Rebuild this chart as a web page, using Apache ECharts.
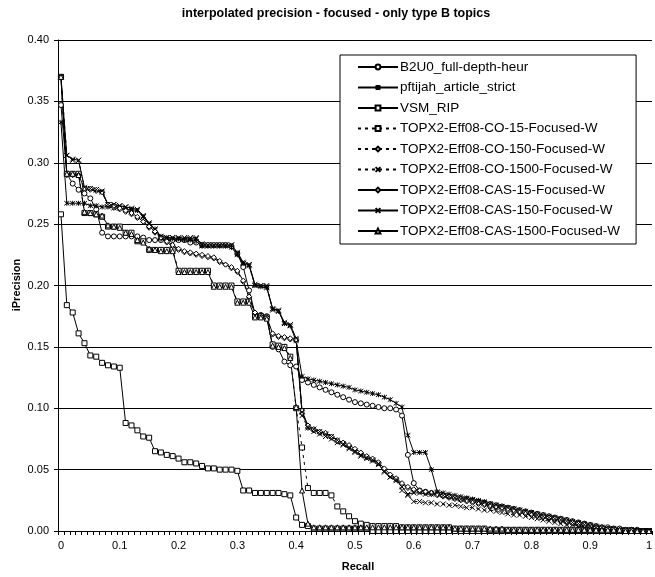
<!DOCTYPE html>
<html><head><meta charset="utf-8">
<script src="https://cdn.jsdelivr.net/npm/echarts@6/dist/echarts.min.js"></script>
<style>html,body{margin:0;padding:0;background:#fff}#c{width:655px;height:577px}</style>
</head><body><div id="c"></div>
<script>
const recall = ['0','0.01','0.02','0.03','0.04','0.05','0.06','0.07','0.08','0.09',
'0.1','0.11','0.12','0.13','0.14','0.15','0.16','0.17','0.18','0.19',
'0.2','0.21','0.22','0.23','0.24','0.25','0.26','0.27','0.28','0.29',
'0.3','0.31','0.32','0.33','0.34','0.35','0.36','0.37','0.38','0.39',
'0.4','0.41','0.42','0.43','0.44','0.45','0.46','0.47','0.48','0.49',
'0.5','0.51','0.52','0.53','0.54','0.55','0.56','0.57','0.58','0.59',
'0.6','0.61','0.62','0.63','0.64','0.65','0.66','0.67','0.68','0.69',
'0.7','0.71','0.72','0.73','0.74','0.75','0.76','0.77','0.78','0.79',
'0.8','0.81','0.82','0.83','0.84','0.85','0.86','0.87','0.88','0.89',
'0.9','0.91','0.92','0.93','0.94','0.95','0.96','0.97','0.98','0.99','1'];

const yTicks = [0, 0.05, 0.10, 0.15, 0.20, 0.25, 0.30, 0.35, 0.40];

const b2u0 = [0.347,0.291,0.283,0.278,0.275,0.271,0.262,0.243,0.240,0.240,
0.240,0.240,0.240,0.240,0.239,0.237,0.237,0.237,0.237,0.237,
0.237,0.237,0.235,0.235,0.233,0.233,0.233,0.233,0.233,0.232,
0.226,0.215,0.196,0.177,0.176,0.175,0.150,0.148,0.138,0.135,
0.134,0.123,0.121,0.119,0.117,0.115,0.113,0.111,0.109,0.107,
0.105,0.104,0.103,0.102,0.101,0.100,0.100,0.099,0.094,0.062,
0.039,0.033,0.032,0.031,0.030,0.029,0.028,0.027,0.026,0.026,
0.025,0.024,0.023,0.022,0.021,0.020,0.019,0.018,0.017,0.016,
0.015,0.014,0.013,0.012,0.011,0.010,0.009,0.008,0.007,0.006,
0.005,0.004,0.003,0.003,0.002,0.002,0.001,0.001,0.001,0.000,0.000];

const pftijah = [0.333,0.267,0.267,0.267,0.267,0.265,0.265,0.264,0.264,0.263,
0.263,0.262,0.262,0.261,0.256,0.250,0.246,0.240,0.239,0.238,
0.238,0.237,0.237,0.236,0.232,0.232,0.232,0.232,0.232,0.231,
0.225,0.218,0.216,0.200,0.199,0.198,0.181,0.179,0.169,0.167,
0.155,0.126,0.124,0.123,0.122,0.121,0.120,0.119,0.118,0.117,
0.115,0.114,0.113,0.112,0.111,0.109,0.107,0.104,0.101,0.078,
0.064,0.064,0.064,0.050,0.032,0.031,0.030,0.029,0.028,0.027,
0.026,0.025,0.024,0.022,0.021,0.020,0.019,0.018,0.017,0.016,
0.015,0.014,0.013,0.012,0.011,0.010,0.009,0.008,0.007,0.006,
0.005,0.004,0.003,0.002,0.002,0.001,0.001,0.001,0.000,0.000,0.000];

const vsmRip = [0.258,0.184,0.178,0.161,0.153,0.143,0.142,0.137,0.135,0.134,
0.133,0.088,0.086,0.082,0.077,0.076,0.065,0.064,0.062,0.061,
0.059,0.056,0.056,0.055,0.053,0.051,0.051,0.050,0.050,0.050,
0.049,0.033,0.033,0.031,0.031,0.031,0.031,0.031,0.030,0.029,
0.011,0.005,0.004,0.002,0.002,0.002,0.002,0.002,0.002,0.002,
0.002,0.002,0.002,0,0,0,0,0,0,0,
0,0,0,0,0,0,0,0,0,0,
0,0,0,0,0,0,0,0,0,0,
0,0,0,0,0,0,0,0,0,0,
0,0,0,0,0,0,0,0,0,0,0];

const co15 = [0.370,0.291,0.291,0.291,0.259,0.259,0.258,0.256,0.248,0.248,
0.248,0.243,0.243,0.236,0.236,0.229,0.229,0.229,0.229,0.229,
0.212,0.212,0.212,0.212,0.212,0.212,0.200,0.200,0.200,0.200,
0.187,0.187,0.187,0.175,0.175,0.174,0.152,0.151,0.150,0.142,
0.100,0.068,0.035,0.031,0.031,0.031,0.029,0.020,0.016,0.012,
0.008,0.006,0.005,0.004,0.004,0.004,0.004,0.004,0.003,0.003,
0.003,0.003,0.003,0.003,0.003,0.003,0.003,0.002,0.002,0.002,
0.002,0.002,0.002,0.001,0.001,0.001,0.001,0.001,0.001,0.001,
0.001,0.001,0.001,0.001,0.001,0.001,0.001,0.001,0.001,0.001,
0.001,0,0,0,0,0,0,0,0,0,0];

const co150 = [0.370,0.290,0.290,0.290,0.279,0.278,0.277,0.276,0.265,0.264,
0.262,0.260,0.258,0.255,0.252,0.247,0.243,0.238,0.235,0.232,
0.229,0.227,0.226,0.225,0.224,0.223,0.222,0.219,0.217,0.214,
0.211,0.203,0.190,0.177,0.174,0.174,0.160,0.158,0.157,0.156,
0.155,0.096,0.084,0.082,0.080,0.079,0.076,0.073,0.072,0.069,
0.066,0.063,0.060,0.058,0.055,0.050,0.045,0.042,0.038,0.035,
0.033,0.032,0.031,0.030,0.029,0.028,0.027,0.026,0.025,0.024,
0.023,0.022,0.021,0.020,0.019,0.018,0.017,0.016,0.015,0.014,
0.013,0.012,0.011,0.010,0.009,0.008,0.007,0.006,0.005,0.004,
0.003,0.003,0.002,0.002,0.001,0.001,0.001,0.000,0.000,0.000,0.000];

const co1500 = [0.370,0.306,0.302,0.302,0.279,0.279,0.278,0.276,0.266,0.266,
0.265,0.264,0.262,0.262,0.256,0.250,0.245,0.239,0.239,0.239,
0.239,0.239,0.239,0.239,0.233,0.233,0.233,0.233,0.233,0.233,
0.226,0.218,0.217,0.200,0.200,0.200,0.180,0.179,0.169,0.168,
0.156,0.094,0.084,0.081,0.079,0.077,0.075,0.072,0.070,0.067,
0.064,0.061,0.059,0.057,0.054,0.049,0.044,0.041,0.033,0.029,
0.024,0.024,0.023,0.023,0.022,0.022,0.021,0.021,0.020,0.019,
0.019,0.018,0.017,0.017,0.016,0.015,0.014,0.013,0.013,0.012,
0.011,0.010,0.009,0.008,0.007,0.006,0.005,0.005,0.004,0.003,
0.002,0.002,0.002,0.001,0.001,0.001,0.001,0.001,0.000,0.000,0.000];

const cas15 = [0.370,0.290,0.290,0.290,0.279,0.279,0.278,0.276,0.266,0.265,
0.263,0.261,0.259,0.256,0.252,0.248,0.244,0.239,0.236,0.233,
0.230,0.228,0.227,0.226,0.225,0.224,0.223,0.220,0.217,0.215,
0.212,0.204,0.191,0.178,0.175,0.174,0.161,0.159,0.158,0.157,
0.156,0.098,0.086,0.083,0.081,0.080,0.077,0.074,0.072,0.070,
0.067,0.064,0.061,0.059,0.056,0.051,0.046,0.043,0.039,0.036,
0.034,0.033,0.032,0.031,0.030,0.029,0.028,0.027,0.026,0.025,
0.024,0.023,0.022,0.021,0.020,0.019,0.018,0.017,0.016,0.015,
0.014,0.013,0.012,0.011,0.010,0.009,0.008,0.007,0.006,0.005,
0.004,0.003,0.003,0.002,0.002,0.001,0.001,0.001,0.000,0.000,0.000];

const cas150 = [0.370,0.306,0.303,0.302,0.280,0.279,0.278,0.277,0.266,0.266,
0.265,0.264,0.263,0.262,0.257,0.251,0.246,0.240,0.239,0.239,
0.238,0.238,0.238,0.238,0.234,0.233,0.233,0.233,0.233,0.233,
0.227,0.219,0.217,0.201,0.200,0.199,0.181,0.180,0.170,0.168,
0.157,0.097,0.085,0.083,0.081,0.079,0.077,0.074,0.071,0.068,
0.065,0.062,0.060,0.058,0.055,0.048,0.044,0.042,0.036,0.030,
0.031,0.031,0.030,0.030,0.031,0.029,0.028,0.027,0.026,0.026,
0.025,0.024,0.023,0.022,0.021,0.020,0.019,0.018,0.017,0.016,
0.015,0.013,0.012,0.011,0.010,0.009,0.008,0.007,0.006,0.005,
0.004,0.003,0.003,0.002,0.002,0.001,0.001,0.001,0.000,0.000,0.000];

const cas1500 = [0.370,0.291,0.291,0.290,0.260,0.259,0.258,0.257,0.249,0.248,
0.247,0.243,0.242,0.237,0.235,0.230,0.229,0.228,0.228,0.228,
0.211,0.211,0.211,0.211,0.211,0.211,0.199,0.199,0.199,0.199,
0.186,0.186,0.186,0.174,0.174,0.173,0.151,0.150,0.149,0.141,
0.101,0.033,0.006,0.003,0.003,0.003,0.003,0.003,0.003,0.003,
0.003,0.003,0.003,0.003,0.003,0.003,0.003,0.003,0.003,0.003,
0.003,0.003,0.003,0.003,0.003,0.003,0.003,0.002,0.002,0.002,
0.002,0.002,0.002,0.002,0.002,0.002,0.001,0.001,0.001,0.001,
0.001,0.001,0.001,0.001,0.001,0.001,0.001,0.001,0.001,0.001,
0.001,0.001,0.001,0.001,0.001,0.001,0,0,0,0,0];

const names = ['B2U0_full-depth-heur','pftijah_article_strict','VSM_RIP',
 'TOPX2-Eff08-CO-15-Focused-W','TOPX2-Eff08-CO-150-Focused-W','TOPX2-Eff08-CO-1500-Focused-W',
 'TOPX2-Eff08-CAS-15-Focused-W','TOPX2-Eff08-CAS-150-Focused-W','TOPX2-Eff08-CAS-1500-Focused-W'];
const values = [b2u0, pftijah, vsmRip, co15, co150, co1500, cas15, cas150, cas1500];

const SYM_X = 'path://M0,0L10,10M10,0L0,10';
const SYM_AST = 'path://M0,0L10,10M10,0L0,10M5,-1L5,11';
const symbols = ['circle', SYM_AST, 'rect', 'rect', 'diamond', SYM_X, 'diamond', SYM_X, 'triangle'];
const dotted = [false,false,false,true,true,true,false,false,false];

const chart = echarts.init(document.getElementById('c'), null, {renderer:'canvas'});
const FONT = 'Liberation Sans, Arial, sans-serif';

const series = names.map((n, k) => ({
  name: n, type: 'line', data: values[k],
  symbol: symbols[k], symbolSize: 5,
  showAllSymbol: true, animation: false,
  lineStyle: {color:'#000', width: 1, type: dotted[k] ? [3,4] : 'solid'},
  itemStyle: {color:'#fff', borderColor:'#000', borderWidth: 1},
  emphasis: {disabled: true}
}));

chart.setOption({
  animation: false,
  backgroundColor: '#fff',
  grid: {left: 58, top: 40, right: -3, bottom: 46, containLabel: false},
  xAxis: {
    type: 'category', data: recall, boundaryGap: true,
    axisLine: {lineStyle: {color:'#000', width: 1}},
    axisTick: {show: true, interval: 0, length: 4, lineStyle: {color:'#000'}},
    axisLabel: {interval: 9, color:'#000', fontFamily: FONT, fontSize: 11, margin: 9},
    splitLine: {show: false}
  },
  yAxis: {
    type: 'value', min: 0, max: 0.4, interval: 0.05,
    axisLine: {show: true, lineStyle: {color:'#000', width: 1}},
    axisTick: {show: true, length: 4, lineStyle: {color:'#000'}},
    axisLabel: {color:'#000', fontFamily: FONT, fontSize: 11, margin: 9,
      formatter: v => { const t = yTicks.find(x => Math.abs(x - v) < 1e-9); return (t === undefined ? v : t).toFixed(2); }},
    splitLine: {show: true, lineStyle: {color:'#000', width: 1}}
  },
  legend: {
    orient: 'vertical', left: 340, top: 55,
    data: names,
    itemWidth: 40, itemHeight: 6, itemGap: 6.5,
    padding: [5, 16, 6, 17],
    borderColor: '#000', borderWidth: 1, backgroundColor: '#fff',
    textStyle: {color:'#000', fontFamily: FONT, fontSize: 13.5, padding: [0,0,0,-3]},
    selectedMode: false
  },
  graphic: [
    {type:'text', x: 336, y: 14, style: {text: 'interpolated precision - focused - only type B topics', font: 'bold 12.5px ' + FONT, fill:'#000', align:'center', verticalAlign:'middle'}},
    {type:'text', x: 358, y: 567, style: {text: 'Recall', font: 'bold 11px ' + FONT, fill:'#000', align:'center', verticalAlign:'middle'}},
    {type:'text', x: 17, y: 285, rotation: Math.PI/2, style: {text: 'iPrecision', font: 'bold 11px ' + FONT, fill:'#000', align:'center', verticalAlign:'middle'}}
  ],
  series: series
});
</script>
</body></html>
